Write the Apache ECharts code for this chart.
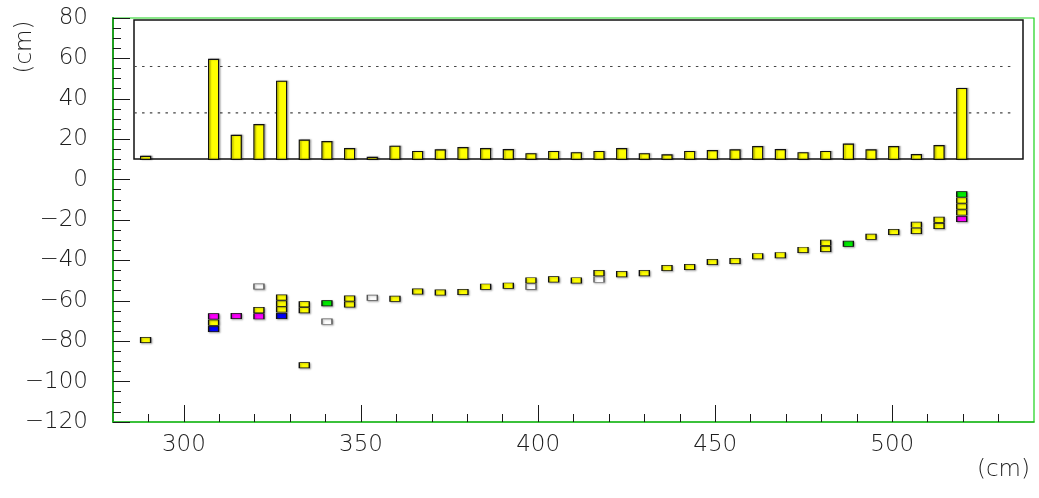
<!DOCTYPE html>
<html>
<head>
<meta charset="utf-8">
<title>Track residuals vs. position</title>
<script src="https://cdn.jsdelivr.net/npm/echarts@6/dist/echarts.min.js"></script>
<style>
  html, body { margin: 0; padding: 0; background: #fff; }
  #chart { width: 1039px; height: 498px; }
</style>
</head>
<body>
<div id="chart"></div>
<script>
// Axis ranges and tick labels (cm)
const xRange = [280, 540];
const xMajorTicks = [300, 350, 400, 450, 500];
const yTicks = [-120, -100, -80, -60, -40, -20, 0, 20, 40, 60, 80];

// Histogram in the upper panel: bar positions and bar tops (bars rise from insetBase)
const insetBase = 10;
const barPositions = [289.2, 308.4, 314.8, 321.2, 327.6, 334.0, 340.4, 346.8, 353.2, 359.6,
  366.0, 372.4, 378.8, 385.2, 391.6, 398.0, 404.4, 410.8, 417.2, 423.6,
  430.0, 436.4, 442.8, 449.2, 455.6, 462.0, 468.4, 474.8, 481.2, 487.6,
  494.0, 500.4, 506.8, 513.2, 519.6];
const barTops = [11.5, 59.5, 21.9, 27.2, 48.7, 19.5, 18.8, 15.3, 11.0, 16.5,
  13.9, 14.7, 15.8, 15.3, 14.8, 12.8, 13.9, 13.3, 13.9, 15.3,
  12.8, 12.2, 13.9, 14.3, 14.7, 16.3, 14.8, 13.3, 13.9, 17.6,
  14.7, 16.3, 12.4, 16.8, 45.1];

// Dotted reference levels across the upper panel
const guideLevels = [56, 33];
const guideSpan = [286, 534];

// Hit markers by category: [position, depth]
const yellowHits = [
  [289.2, -79.4],
  [308.4, -70.8],
  [321.2, -64.6],
  [327.6, -58.4], [327.6, -61.4], [327.6, -64.3],
  [334.0, -61.7], [334.0, -64.7], [334.0, -91.9],
  [346.8, -58.9], [346.8, -61.8],
  [359.6, -59.0],
  [366.0, -55.4], [372.4, -55.9], [378.8, -55.6], [385.2, -53.0], [391.6, -52.5],
  [398.0, -49.9], [404.4, -49.4], [410.8, -49.9], [417.2, -46.3], [423.6, -46.8],
  [430.0, -46.3], [436.4, -43.8], [442.8, -43.3],
  [449.2, -40.8], [455.6, -40.3], [462.0, -37.9], [468.4, -37.4], [474.8, -34.8],
  [481.2, -31.3], [481.2, -34.4],
  [494.0, -28.3], [500.4, -25.9], [506.8, -22.4], [506.8, -25.4],
  [513.2, -19.9], [513.2, -23.0],
  [519.6, -10.3], [519.6, -13.3], [519.6, -16.3]
];
const magentaHits = [[308.4, -67.7], [314.8, -67.5], [321.2, -67.7], [519.6, -19.5]];
const blueHits = [[308.4, -74.0], [327.6, -67.5]];
const greenHits = [[340.4, -61.2], [487.6, -31.8], [519.6, -7.3]];
const whiteHits = [[321.2, -52.9], [340.4, -70.3], [353.2, -58.5], [398.0, -53.0], [417.2, -49.5]];

const FONT = '"DejaVu Sans", "Liberation Sans", sans-serif';
const TEXT_COLOR = '#1e1e1e';
const TICK_COLOR = '#1a1a1a';

const xMinorTicks = [];
for (let v = xRange[0] + 10; v < xRange[1]; v += 10) {
  if (xMajorTicks.indexOf(v) < 0) xMinorTicks.push(v);
}

function fmtNum(v) {
  return v < 0 ? '\u2212' + Math.abs(v) : String(v);
}

function hitSeries(name, data, fill, border) {
  return {
    name: name,
    type: 'scatter',
    xAxisIndex: 0,
    yAxisIndex: 0,
    data: data,
    symbol: 'rect',
    symbolSize: [10, 5.3],
    z: 5,
    itemStyle: {
      color: fill,
      borderColor: border,
      borderWidth: 1,
      opacity: 1,
      shadowColor: 'rgba(0,0,0,0.3)',
      shadowBlur: 2,
      shadowOffsetX: 1,
      shadowOffsetY: 1
    },
    emphasis: { disabled: true }
  };
}

const chart = echarts.init(document.getElementById('chart'), null, { renderer: 'canvas' });

const option = {
  animation: false,
  backgroundColor: '#fff',
  grid: [
    {
      left: 113, top: 18, width: 921, height: 404,
      show: true, borderColor: '#19d219', borderWidth: 1.2,
      backgroundColor: 'transparent'
    },
    {
      left: 134, top: 20, width: 889, height: 139,
      show: true, borderColor: '#111', borderWidth: 1.5,
      backgroundColor: 'transparent'
    }
  ],
  xAxis: [
    {
      gridIndex: 0, type: 'value', min: xRange[0], max: xRange[1],
      position: 'bottom',
      axisLine: { show: true, onZero: false, lineStyle: { color: '#22b422', width: 1.5 } },
      axisTick: { show: true, inside: true, length: 17, customValues: xMajorTicks,
        lineStyle: { color: TICK_COLOR, width: 1 } },
      axisLabel: { show: true, customValues: xMajorTicks, margin: 12,
        fontFamily: FONT, fontSize: 23, fontWeight: 200, color: TEXT_COLOR,
        formatter: fmtNum },
      splitLine: { show: false }
    },
    {
      gridIndex: 0, type: 'value', min: xRange[0], max: xRange[1],
      position: 'bottom',
      axisLine: { show: false, onZero: false },
      axisTick: { show: true, inside: true, length: 8, customValues: xMinorTicks,
        lineStyle: { color: TICK_COLOR, width: 1 } },
      axisLabel: { show: false },
      splitLine: { show: false }
    },
    { gridIndex: 1, type: 'value', show: false, min: 0, max: 1 }
  ],
  yAxis: [
    {
      gridIndex: 0, type: 'value',
      min: yTicks[0], max: yTicks[yTicks.length - 1], interval: 20,
      axisLine: { show: true, onZero: false, lineStyle: { color: '#1f9f1f', width: 2 } },
      axisTick: { show: true, inside: true, length: 17, lineStyle: { color: TICK_COLOR, width: 1 } },
      minorTick: { show: true, splitNumber: 4, length: 8, lineStyle: { color: TICK_COLOR, width: 1 } },
      axisLabel: { show: true, margin: 25, fontFamily: FONT, fontSize: 23, fontWeight: 200,
        color: TEXT_COLOR, formatter: fmtNum },
      splitLine: { show: false },
      minorSplitLine: { show: false }
    },
    { gridIndex: 1, type: 'value', show: false, min: 0, max: 1 }
  ],
  graphic: [
    {
      type: 'text', x: 25, y: 47, rotation: Math.PI / 2,
      style: { text: '(cm)', font: '200 23px ' + FONT, fill: TEXT_COLOR,
        align: 'center', verticalAlign: 'middle' }
    },
    {
      type: 'text', right: 9, top: 459,
      style: { text: '(cm)', font: '200 23px ' + FONT, fill: TEXT_COLOR }
    }
  ],
  series: [
    {
      name: 'occupancy',
      type: 'custom',
      xAxisIndex: 0, yAxisIndex: 0,
      z: 3,
      data: barPositions.map((x, i) => [x, barTops[i]]),
      renderItem: function (params, api) {
        const x = api.value(0);
        const top = api.coord([x, api.value(1)]);
        const bottom = api.coord([x, insetBase]);
        const w = 10;
        return {
          type: 'rect',
          shape: { x: bottom[0] - w / 2, y: top[1], width: w, height: bottom[1] - top[1] },
          style: {
            fill: '#ffff00', stroke: '#111', lineWidth: 1.2,
            shadowColor: 'rgba(0,0,0,0.35)', shadowBlur: 1.5, shadowOffsetX: 1.5, shadowOffsetY: 0
          }
        };
      },
      silent: true
    },
    ...guideLevels.map((lvl, i) => ({
      name: 'guide' + i,
      type: 'line',
      xAxisIndex: 0, yAxisIndex: 0,
      data: [[guideSpan[0], lvl], [guideSpan[1], lvl]],
      symbol: 'none',
      z: 2,
      silent: true,
      lineStyle: { color: '#444', width: 1.2, type: [2.5, 5.3] }
    })),
    hitSeries('yellow', yellowHits, '#ffff00', '#111'),
    hitSeries('magenta', magentaHits, '#ff00ff', '#111'),
    hitSeries('blue', blueHits, '#0000ff', '#111'),
    hitSeries('green', greenHits, '#00ee00', '#111'),
    hitSeries('white', whiteHits, '#ffffff', '#555')
  ]
};

chart.setOption(option);
</script>
</body>
</html>
